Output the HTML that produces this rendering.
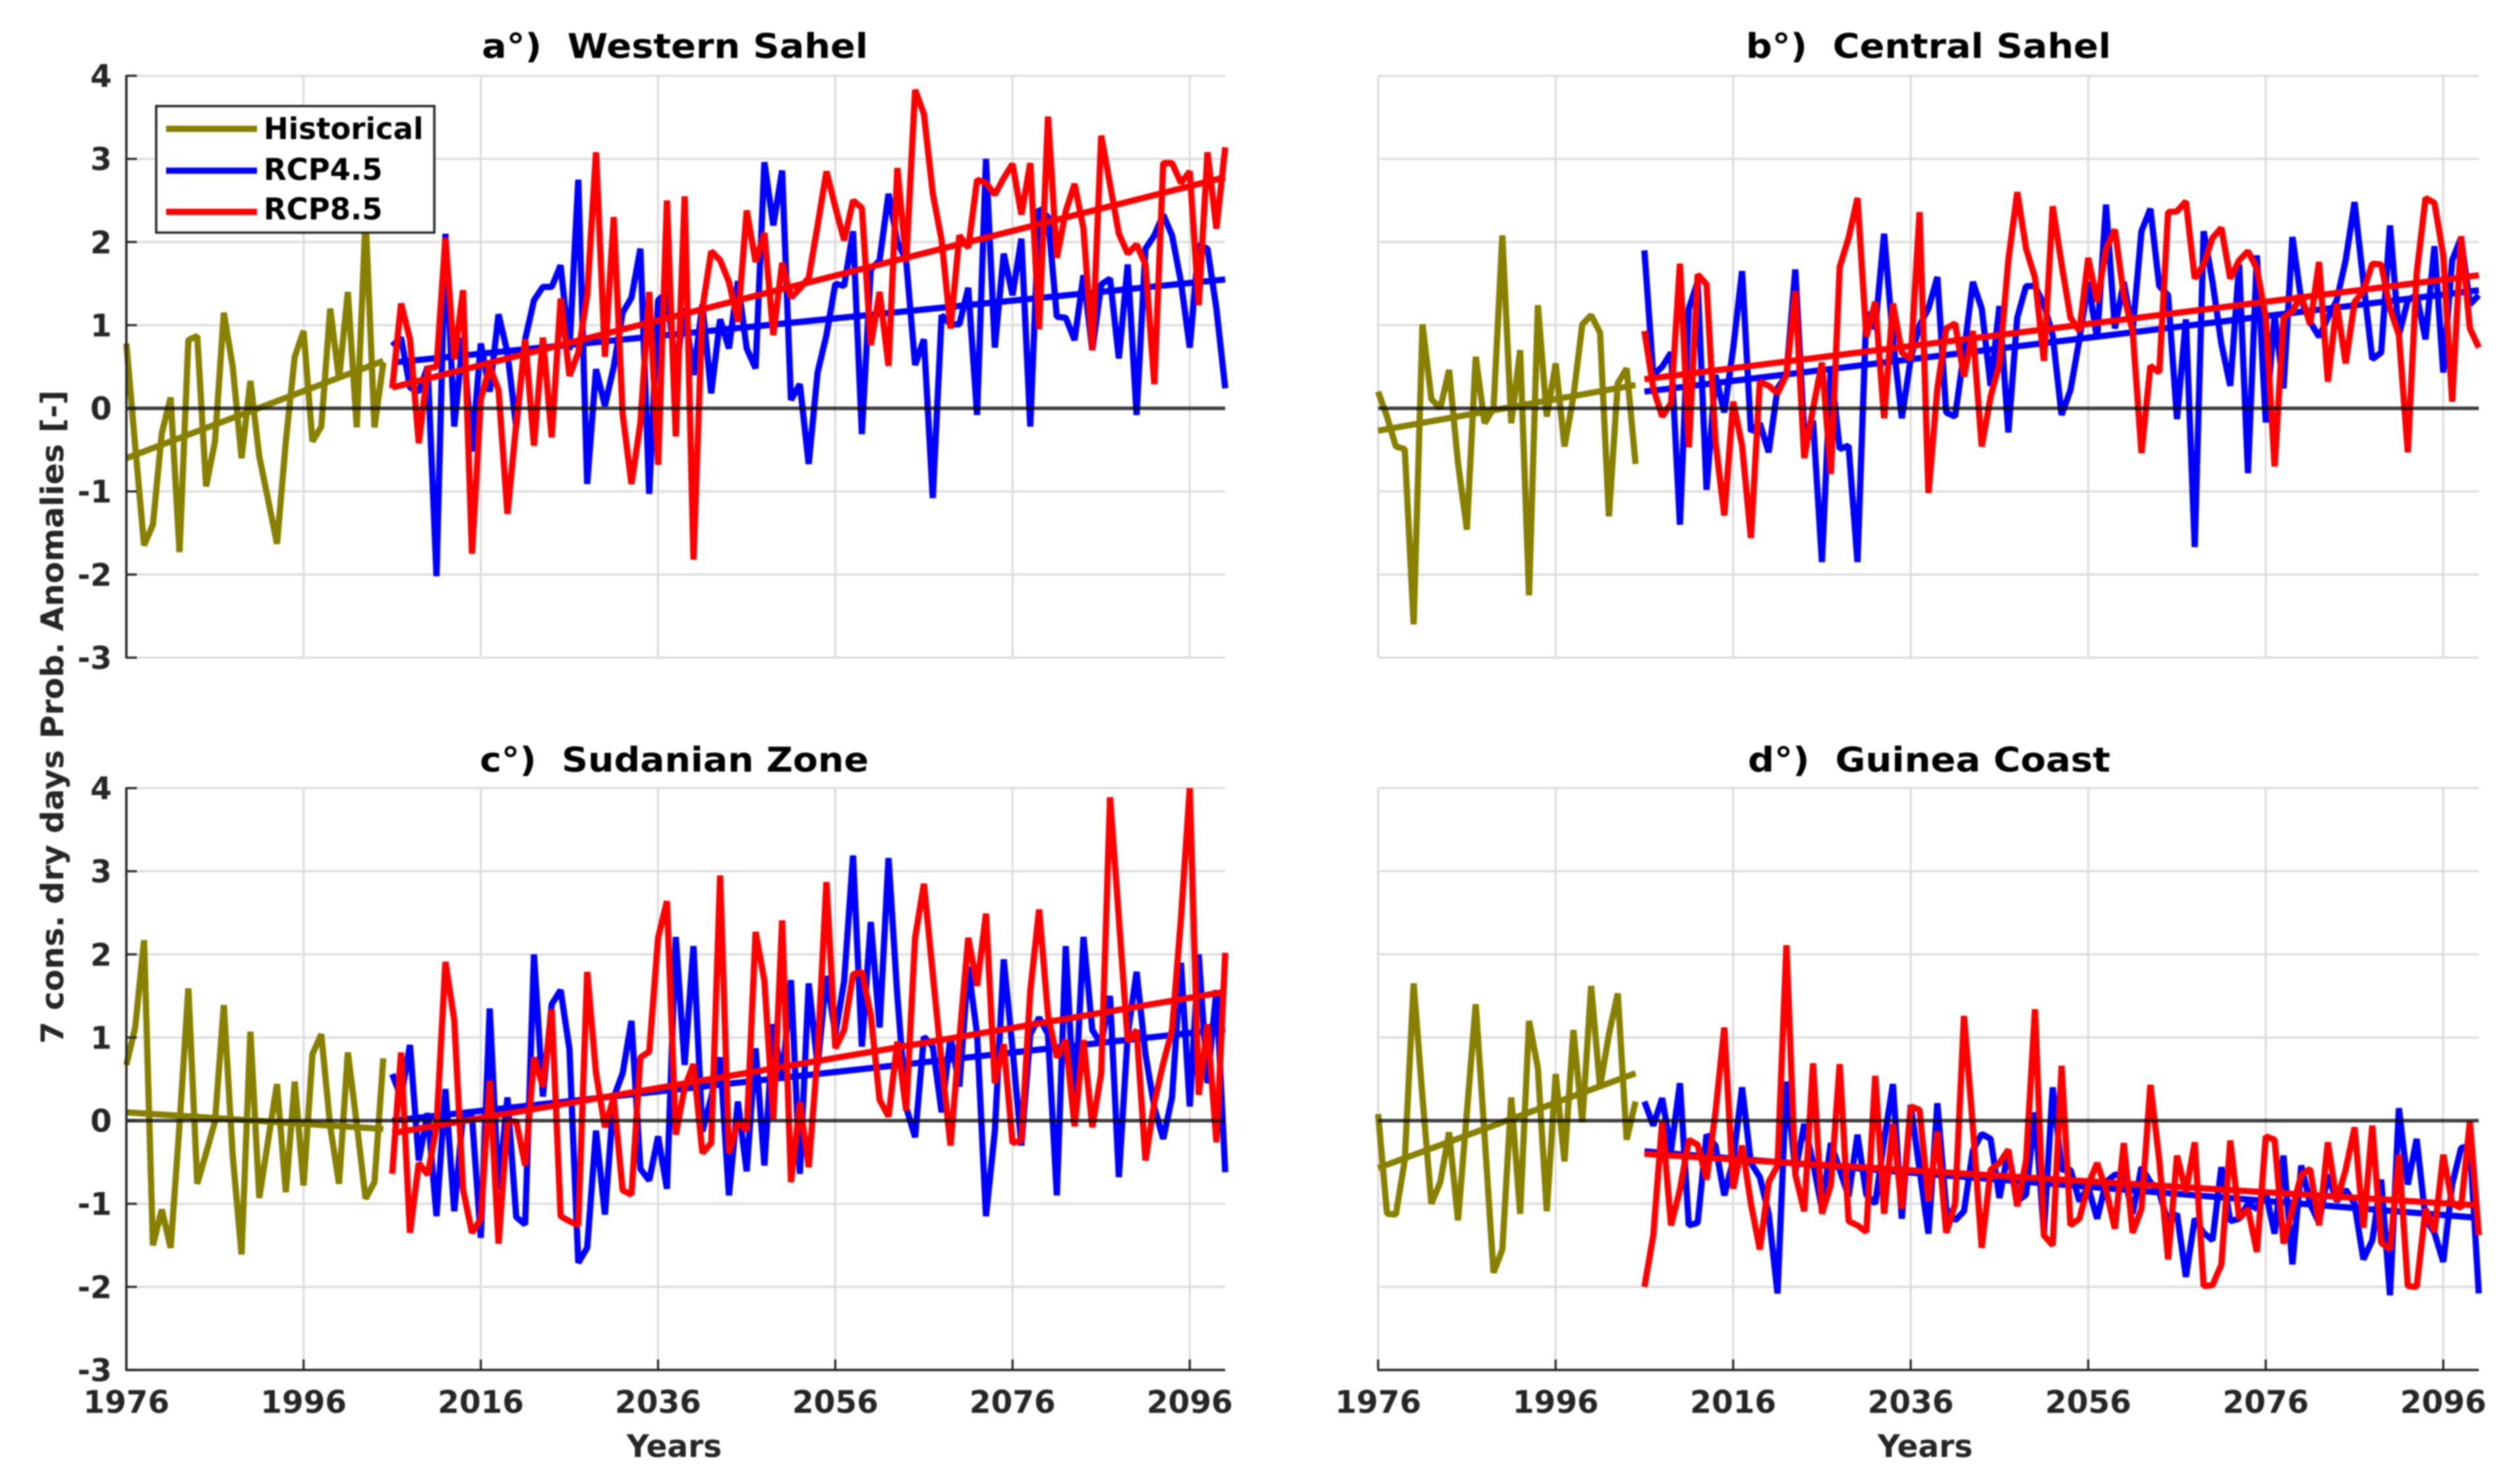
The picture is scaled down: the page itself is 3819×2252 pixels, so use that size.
<!DOCTYPE html>
<html lang="en">
<head>
<meta charset="utf-8">
<title>7 consecutive dry days probability anomalies</title>
<style>
  html, body { margin: 0; padding: 0; background: #fff; }
  svg { display: block; font-family: "DejaVu Sans", "Liberation Sans", sans-serif; font-weight: bold; filter: blur(1px); }
</style>
</head>
<body>
<svg id="chart" xmlns="http://www.w3.org/2000/svg" width="3819" height="2252" viewBox="0 0 3819 2252">
  <rect x="0" y="0" width="3819" height="2252" fill="#ffffff"/>
  <defs id="clip-defs"></defs>
  <g id="plots"></g>

  <text x="1024" y="88" text-anchor="middle" font-size="52" fill="#000" textLength="586" lengthAdjust="spacingAndGlyphs">a°)&#160;&#160;Western Sahel</text>
  <text x="2926" y="88" text-anchor="middle" font-size="52" fill="#000" textLength="554" lengthAdjust="spacingAndGlyphs">b°)&#160;&#160;Central Sahel</text>
  <text x="1023" y="1171" text-anchor="middle" font-size="52" fill="#000" textLength="590" lengthAdjust="spacingAndGlyphs">c°)&#160;&#160;Sudanian Zone</text>
  <text x="2927" y="1171" text-anchor="middle" font-size="52" fill="#000" textLength="550" lengthAdjust="spacingAndGlyphs">d°)&#160;&#160;Guinea Coast</text>

  <text transform="translate(96 1088) rotate(-90)" text-anchor="middle" font-size="47" fill="#262626" textLength="992" lengthAdjust="spacingAndGlyphs">7 cons. dry days Prob. Anomalies [-]</text>
  <text x="1023" y="2211" text-anchor="middle" font-size="47" fill="#262626">Years</text>
  <text x="2921" y="2211" text-anchor="middle" font-size="47" fill="#262626">Years</text>

  <g>
    <rect x="237" y="161" width="422" height="192" fill="#ffffff" stroke="#262626" stroke-width="3.5"/>
    <line x1="252" x2="390" y1="195.5" y2="195.5" stroke="#888000" stroke-width="9.5"/>
    <text x="400" y="211" font-size="45" fill="#000">Historical</text>
    <line x1="252" x2="390" y1="259" y2="259" stroke="#0000ff" stroke-width="9.5"/>
    <text x="400" y="273" font-size="45" fill="#000">RCP4.5</text>
    <line x1="252" x2="390" y1="321.5" y2="321.5" stroke="#ff0000" stroke-width="9.5"/>
    <text x="400" y="333" font-size="45" fill="#000">RCP8.5</text>
  </g>
</svg>

<script>
// ---- shared axis data ----
const xTickYears = [1976, 1996, 2016, 2036, 2056, 2076, 2096];
const yTickValues = [-3, -2, -1, 0, 1, 2, 3, 4];
const xDomain = [1976, 2100];
const yDomain = [-3, 4];
const historicalFirstYear = 1976;
const scenarioFirstYear = 2006;
const historicalTrendYears = [1976, 2005];
const scenarioTrendYears = [2006, 2100];

// ---- a) Western Sahel ----
const westernHistorical = [
  0.78,-0.45,-1.65,-1.4,-0.3,0.13,-1.73,0.82,0.87,-0.94,
  -0.4,1.15,0.5,-0.6,0.33,-0.58,-1.1,-1.63,-0.4,0.62,
  0.93,-0.4,-0.22,1.2,0.35,1.4,-0.23,2.3,-0.23,0.55];
const westernRcp45 = [
  0.75,0.85,0.25,0.2,0.5,-2.02,2.1,-0.22,0.85,-0.52,
  0.78,0.2,1.13,0.67,-0.23,0.83,1.3,1.46,1.46,1.72,
  0.7,2.75,-0.91,0.47,0.03,0.5,1.15,1.33,1.92,-1.03,
  1.3,1.39,0.45,1.2,0.4,1.25,0.18,1.07,0.72,1.53,
  0.72,0.48,2.96,2.2,2.86,0.1,0.29,-0.67,0.43,0.88,
  1.5,1.47,2.13,-0.31,1.67,1.78,2.58,2.0,1.78,0.52,
  0.83,-1.08,1.12,1.01,1.01,1.45,-0.08,3.0,0.73,1.86,
  1.36,2.04,-0.22,2.4,2.3,1.1,1.09,0.82,1.6,0.7,
  1.49,1.56,0.6,1.73,-0.08,1.92,2.08,2.33,2.08,1.52,
  0.73,1.97,1.92,1.2,0.24];
const westernRcp85 = [
  0.24,1.26,0.83,-0.42,0.48,0.5,2.05,0.59,1.42,-1.75,
  0.11,0.5,0.22,-1.27,-0.18,0.83,-0.45,0.85,-0.35,1.32,
  0.39,0.67,1.36,3.08,0.62,2.3,-0.07,-0.91,-0.18,1.4,
  -0.68,2.5,-0.34,2.55,-1.82,1.2,1.89,1.78,1.52,1.04,
  2.38,1.76,2.11,0.88,1.75,1.33,1.44,1.57,2.2,2.85,
  2.42,2.02,2.5,2.41,0.76,1.4,0.51,2.89,1.76,3.83,
  3.54,2.58,2.02,0.96,2.08,1.93,2.75,2.71,2.57,2.77,
  2.94,2.33,2.95,0.95,3.51,1.81,2.37,2.7,2.16,0.7,
  3.28,2.69,2.1,1.86,1.97,1.73,0.29,2.95,2.95,2.71,
  2.85,1.24,3.08,2.16,3.14];
const westernHistoricalTrend = [-0.6, 0.57];
const westernRcp45Trend = [0.55, 1.55];
const westernRcp85Trend = [0.25, 2.78];

// ---- b) Central Sahel ----
const centralHistorical = [
  0.2,-0.1,-0.46,-0.49,-2.6,1.01,0.11,0,0.46,-0.66,
  -1.46,0.62,-0.18,0,2.08,-0.18,0.7,-2.25,1.24,-0.1,
  0.54,-0.46,0.14,1.01,1.12,0.91,-1.3,0.3,0.48,-0.67];
const centralRcp45 = [
  1.9,0.4,0.5,0.67,-1.4,1.2,1.52,-0.98,0.4,-0.05,
  0.72,1.65,-0.28,-0.18,-0.53,0.24,0.4,1.67,-0.3,-0.15,
  -1.85,0.5,-0.49,-0.45,-1.85,1.15,0.96,2.1,0.83,-0.12,
  0.6,1.0,1.2,1.58,-0.05,-0.1,0.67,1.52,1.2,0.27,
  1.23,-0.29,1.09,1.47,1.47,1.25,0.88,-0.08,0.22,0.83,
  1.52,0.83,2.45,0.96,1.52,0.93,2.13,2.4,1.47,1.36,
  -0.13,1.07,-1.67,2.13,1.52,0.78,0.27,1.73,-0.78,1.84,
  -0.17,1.12,0.24,2.06,1.3,1.04,0.86,1.09,1.3,1.78,
  2.48,1.52,0.59,0.67,2.2,0.88,1.3,1.36,0.83,1.95,
  0.43,1.78,2.05,1.25,1.36];
const centralRcp85 = [
  0.93,0.24,-0.1,0.06,1.74,-0.47,1.61,1.49,-0.4,-1.29,
  0.08,-0.45,-1.56,0.32,0.27,0.18,0.4,1.41,-0.6,0,
  0.55,-0.79,1.7,2.05,2.53,0.86,1.28,-0.12,1.26,0.67,
  0.59,2.36,-1.02,0.24,0.96,1.02,0.38,0.93,-0.46,0.14,
  0.54,1.78,2.6,1.92,1.57,0.57,2.43,1.73,1.09,0.93,
  1.81,1.28,1.92,2.15,1.36,0.93,-0.54,0.51,0.43,2.36,
  2.37,2.49,1.56,1.73,2.05,2.17,1.56,1.78,1.89,1.68,
  1.09,-0.7,1.09,1.17,1.36,1.01,1.76,0.32,1.26,0.54,
  1.28,1.41,1.74,1.73,1.2,0.88,-0.53,1.62,2.53,2.47,
  1.84,0.08,2.07,0.96,0.73];
const centralHistoricalTrend = [-0.27, 0.28];
const centralRcp45Trend = [0.2, 1.42];
const centralRcp85Trend = [0.35, 1.6];

// ---- c) Sudanian Zone ----
const sudanianHistorical = [
  0.67,1.12,2.17,-1.5,-1.07,-1.53,-0.05,1.59,-0.76,-0.39,
  -0.01,1.39,-0.42,-1.61,1.07,-0.93,-0.24,0.44,-0.86,0.47,
  -0.78,0.8,1.04,-0.07,-0.76,0.82,-0.04,-0.94,-0.74,0.75];
const sudanianRcp45 = [
  0.56,0.28,0.91,-0.48,0.09,-1.15,0.38,-1.09,0.08,0.05,
  -1.41,1.35,-0.83,0.28,-1.16,-1.25,2.0,0.29,1.4,1.57,
  0.86,-1.71,-1.53,-0.12,-1.13,0.28,0.57,1.2,-0.58,-0.72,
  -0.19,-0.82,2.21,0.67,2.1,-0.13,0.28,0.76,-0.9,0.23,
  -0.61,0.87,-0.54,1.16,0.48,1.69,-0.64,1.65,0.66,1.74,
  1.04,1.68,3.19,0.89,2.39,1.12,3.16,1.5,0.16,-0.2,
  1.01,0.89,0.1,1.01,0.41,1.85,1.04,-1.15,-0.13,1.94,
  0.86,-0.3,1.04,1.24,1.04,-0.9,2.1,0.1,2.21,1.09,
  0.92,1.5,-0.68,1.04,1.79,0.8,0.16,-0.22,0.28,1.9,
  0.17,2.0,0.45,1.57,-0.62];
const sudanianRcp85 = [
  -0.64,0.82,-1.35,-0.51,-0.65,-0.07,1.91,1.21,-0.83,-1.35,
  -1.18,0.48,-1.48,-0.01,-0.01,-0.54,0.76,0.41,1.34,-1.15,
  -1.21,-1.26,1.79,0.57,-0.08,0.28,-0.84,-0.89,0.76,0.83,
  2.2,2.64,-0.17,0.4,0.68,-0.39,-0.27,2.95,-0.39,-0.01,
  -0.12,2.27,1.68,0.02,2.41,-0.74,0.22,-0.56,0.8,2.87,
  0.87,1.09,1.76,1.79,1.27,0.25,0.05,0.95,0.12,2.2,
  2.85,1.76,0.69,-0.3,0.98,2.2,1.62,2.49,0.45,0.92,
  -0.27,-0.24,1.56,2.54,1.27,0.76,0.97,-0.07,0.97,-0.08,
  0.57,3.89,2.43,0.95,1.09,-0.48,0.22,0.69,1.09,2.43,
  4.0,0.31,1.16,-0.26,2.02];
const sudanianHistoricalTrend = [0.1, -0.1];
const sudanianRcp45Trend = [0.0, 1.1];
const sudanianRcp85Trend = [-0.15, 1.55];

// ---- d) Guinea Coast ----
const guineaHistorical = [
  0.08,-1.12,-1.13,-0.48,1.65,0.28,-1.0,-0.74,-0.14,-1.2,
  0.1,1.4,-0.19,-1.83,-1.55,0.28,-1.12,1.2,0.63,-1.09,
  0.56,-0.49,1.09,-0.02,1.62,0.4,1.04,1.53,-0.23,0.23];
const guineaRcp45 = [
  0.23,-0.06,0.27,-0.36,0.45,-1.26,-1.23,-0.17,-0.3,-0.9,
  -0.48,0.4,-0.51,-0.68,-1.12,-2.08,0.47,-0.62,-0.04,-0.51,
  -1.06,-0.27,-0.59,-0.91,-0.17,-0.89,-1.0,-0.24,0.44,-1.18,
  0.19,-0.59,-1.36,0.21,-1.06,-1.2,-1.09,-0.36,-0.16,-0.22,
  -0.93,-0.36,-0.97,-0.89,0.1,-1.35,0.4,-0.59,-0.59,-0.97,
  -0.8,-1.18,-0.74,-0.65,-0.65,-1.12,-0.56,-0.74,-0.86,-1.23,
  -1.12,-1.88,-1.18,-1.35,-1.44,-0.56,-1.21,-1.18,-1.0,-1.06,
  -0.86,-1.36,-0.42,-1.73,-0.54,-1.0,-1.23,-0.65,-0.97,-0.83,
  -1.0,-1.67,-1.44,-0.71,-2.1,0.15,-0.77,-0.22,-1.18,-1.35,
  -1.7,-0.77,-0.33,-0.3,-2.08];
const guineaRcp85 = [
  -2.0,-1.38,-0.01,-1.26,-0.83,-0.23,-0.29,-0.71,0.1,1.12,
  -0.82,-0.3,-1.0,-1.55,-0.74,-0.54,2.11,-0.65,-1.09,0.69,
  -1.12,-0.77,0.68,-1.21,-1.26,-1.34,0.54,-1.12,-0.04,-1.06,
  0.17,0.13,-0.97,-0.13,-1.35,-1.0,1.26,-0.07,-1.53,-0.59,
  -0.51,-0.35,-1.03,-0.48,1.34,-1.38,-1.5,0.66,-1.26,-1.18,
  -0.77,-0.51,-0.83,-1.3,-0.27,-1.35,-1.06,0.43,-0.48,-1.67,
  -0.42,-0.86,-0.26,-1.99,-1.98,-1.73,-0.24,-1.18,-1.06,-1.58,
  -0.19,-0.23,-1.48,-1.06,-0.65,-0.58,-1.26,-0.26,-0.97,-0.59,
  -0.08,-1.29,-0.06,-1.47,-1.55,-0.41,-1.99,-2.0,-1.06,-1.34,
  -0.41,-1.0,-1.05,-0.01,-1.38];
const guineaHistoricalTrend = [-0.57, 0.57];
const guineaRcp45Trend = [-0.37, -1.17];
const guineaRcp85Trend = [-0.4, -1.02];

// ---- layout and drawing ----
const SVG_NS = 'http://www.w3.org/2000/svg';
const OLIVE = '#888000', BLUE = '#0000ff', RED = '#ff0000';
const GRID = '#dcdcdc', AXIS = '#262626';
const LINE_WIDTH = 9.5;
const plots = document.getElementById('plots');
const clipDefs = document.getElementById('clip-defs');

function make(tag, attrs, parent) {
  const el = document.createElementNS(SVG_NS, tag);
  for (const k in attrs) el.setAttribute(k, attrs[k]);
  parent.appendChild(el);
  return el;
}

function drawPanel(p) {
  const xScale = y => p.left + (y - xDomain[0]) / (xDomain[1] - xDomain[0]) * (p.right - p.left);
  const yScale = v => p.bottom - (v - yDomain[0]) / (yDomain[1] - yDomain[0]) * (p.bottom - p.top);

  const g = make('g', {}, plots);
  
  

  const clip = make('clipPath', { id: 'clip-' + p.name }, clipDefs);
  make('rect', { x: p.left - 6, y: p.top - 1, width: p.right - p.left + 12, height: p.bottom - p.top + 2 }, clip);

  // grid
  xTickYears.forEach(year => {
    const l = make('line', { x1: xScale(year), x2: xScale(year), y1: p.top, y2: p.bottom, stroke: GRID, 'stroke-width': 3.2 }, g);
    
    
  });
  yTickValues.forEach(v => {
    const l = make('line', { x1: p.left, x2: p.right, y1: yScale(v), y2: yScale(v), stroke: GRID, 'stroke-width': 3.2 }, g);
    
    
  });

  const marks = make('g', { 'clip-path': 'url(#clip-' + p.name + ')' }, g);
  
  

  function series(values, firstYear, color, label) {
    const pts = values.map((v, i) => xScale(firstYear + i).toFixed(1) + ',' + yScale(v).toFixed(1)).join(' ');
    const s = make('polyline', { points: pts, fill: 'none', stroke: color, 'stroke-width': LINE_WIDTH, 'stroke-linejoin': 'bevel' }, marks);
    
    
  }
  function trend(years, values, color, label) {
    const t = make('line', { x1: xScale(years[0]), x2: xScale(years[1]), y1: yScale(values[0]), y2: yScale(values[1]), stroke: color, 'stroke-width': LINE_WIDTH }, marks);
    
    
  }

  series(p.historical, historicalFirstYear, OLIVE, 'historical-series');
  trend(historicalTrendYears, p.historicalTrend, OLIVE, 'historical-trend');
  series(p.rcp45, scenarioFirstYear, BLUE, 'rcp45-series');
  trend(scenarioTrendYears, p.rcp45Trend, BLUE, 'rcp45-trend');
  series(p.rcp85, scenarioFirstYear, RED, 'rcp85-series');
  trend(scenarioTrendYears, p.rcp85Trend, RED, 'rcp85-trend');

  // zero line
  const zero = make('line', { x1: p.left, x2: p.right, y1: yScale(0), y2: yScale(0), stroke: '#000', 'stroke-opacity': 0.72, 'stroke-width': 5.5 }, g);
  
  

  // left axis
  if (p.showY) {
    const ax = make('line', { x1: p.left, x2: p.left, y1: p.top - 1, y2: p.bottom + 1, stroke: AXIS, 'stroke-width': 3.6 }, g);
    
    
    yTickValues.forEach(v => {
      const tick = make('line', { x1: p.left, x2: p.left + 16, y1: yScale(v), y2: yScale(v), stroke: AXIS, 'stroke-width': 3.2 }, g);
      
      
      const lab = make('text', { x: p.left - 22, y: yScale(v) + 17, 'text-anchor': 'end', 'font-size': 47, fill: AXIS }, g);
      
      
      lab.textContent = String(v);
    });
  }

  // bottom axis
  if (p.showX) {
    const ax = make('line', { x1: p.left - 1, x2: p.right, y1: p.bottom, y2: p.bottom, stroke: AXIS, 'stroke-width': 3.6 }, g);
    
    
    xTickYears.forEach(year => {
      const tick = make('line', { x1: xScale(year), x2: xScale(year), y1: p.bottom, y2: p.bottom - 16, stroke: AXIS, 'stroke-width': 3.2 }, g);
      
      
      const lab = make('text', { x: xScale(year), y: p.bottom + 65, 'text-anchor': 'middle', 'font-size': 47, fill: AXIS }, g);
      
      
      lab.textContent = String(year);
    });
  }
}

drawPanel({ name: 'panel-western-sahel', left: 191.7, right: 1859, top: 115, bottom: 998, showY: true, showX: false,
  historical: westernHistorical, rcp45: westernRcp45, rcp85: westernRcp85,
  historicalTrend: westernHistoricalTrend, rcp45Trend: westernRcp45Trend, rcp85Trend: westernRcp85Trend });
drawPanel({ name: 'panel-central-sahel', left: 2091, right: 3761, top: 115, bottom: 998, showY: false, showX: false,
  historical: centralHistorical, rcp45: centralRcp45, rcp85: centralRcp85,
  historicalTrend: centralHistoricalTrend, rcp45Trend: centralRcp45Trend, rcp85Trend: centralRcp85Trend });
drawPanel({ name: 'panel-sudanian-zone', left: 191.7, right: 1859, top: 1196, bottom: 2079, showY: true, showX: true,
  historical: sudanianHistorical, rcp45: sudanianRcp45, rcp85: sudanianRcp85,
  historicalTrend: sudanianHistoricalTrend, rcp45Trend: sudanianRcp45Trend, rcp85Trend: sudanianRcp85Trend });
drawPanel({ name: 'panel-guinea-coast', left: 2091, right: 3761, top: 1196, bottom: 2079, showY: false, showX: true,
  historical: guineaHistorical, rcp45: guineaRcp45, rcp85: guineaRcp85,
  historicalTrend: guineaHistoricalTrend, rcp45Trend: guineaRcp45Trend, rcp85Trend: guineaRcp85Trend });
</script>
</body>
</html>
